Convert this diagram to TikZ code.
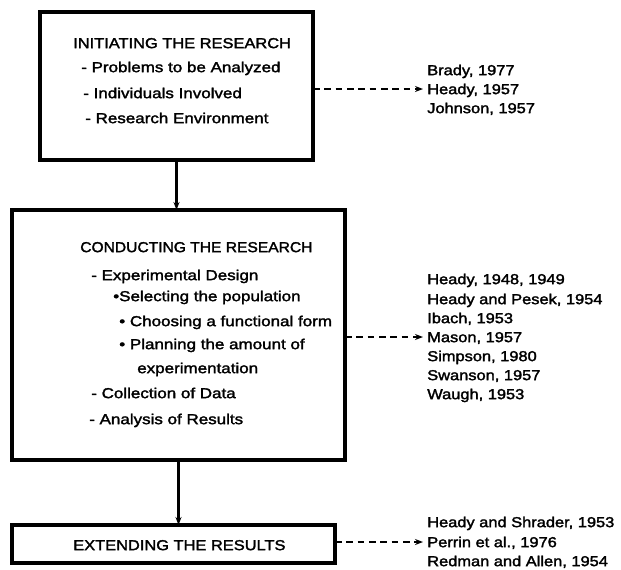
\documentclass[tikz,border=0pt]{standalone}
\usepackage{fontspec}
\setmainfont{Liberation Sans}[FakeStretch=1.14,FakeBold=2]
\newfontfamily\itemfont{Liberation Sans}[FakeStretch=1.18,FakeBold=2]
\usetikzlibrary{arrows.meta}
\begin{document}
\begin{tikzpicture}[x=0.75pt,y=-0.75pt,
  box/.style={draw,line width=2.5pt,inner sep=0pt,outer sep=0pt},
  txt/.style={anchor=west,inner sep=0pt,font=\fontsize{10.8}{13}\selectfont,text height=7.7pt,text depth=0pt},
  itm/.style={txt,font=\itemfont\fontsize{10.8}{13}\selectfont},
  vline/.style={line width=1.6pt,-{Stealth[length=6pt,width=4.5pt]}},
  dline/.style={line width=1.2pt,dash pattern=on 5pt off 3.5pt,-{Stealth[length=6pt,width=4.5pt]},shorten >=3pt}
]
\useasboundingbox (0,0) rectangle (621,569);
% boxes
\node[box,minimum width=204.75pt,minimum height=111pt] (b1) at (176.5,86) {};
\node[box,minimum width=249.75pt,minimum height=187.5pt] (b2) at (178.5,335) {};
\node[box,minimum width=242.25pt,minimum height=28.5pt] (b3) at (173.5,544) {};
% box 1 text
\node[txt] (t1) at (73,43) {INITIATING THE RESEARCH};
\node[itm] (t1a) at (81,67) {- Problems to be Analyzed};
\node[itm] (t1b) at (83,93) {- Individuals Involved};
\node[itm] (t1c) at (85,118) {- Research Environment};
% box 2 text
\node[txt] (t2) at (80,247) {\scalebox{0.95}[1]{CONDUCTING THE RESEARCH}};
\node[itm] (t2a) at (91,275) {- Experimental Design};
\node[itm] (t2b) at (113,296) {•Selecting the population};
\node[itm] (t2c) at (119,321) {• Choosing a functional form};
\node[itm] (t2d) at (119,344) {• Planning the amount of};
\node[itm] (t2e) at (137,368) {experimentation};
\node[itm] (t2f) at (91,393) {- Collection of Data};
\node[itm] (t2g) at (89,419) {- Analysis of Results};
% box 3 text
\node[txt] (t3) at (73,545) {EXTENDING THE RESULTS};
% references
\node[txt] (r1a) at (427,70) {Brady, 1977};
\node[txt] (r1b) at (427,89) {Heady, 1957};
\node[txt] (r1c) at (427,108) {Johnson, 1957};
\node[txt] (r2a) at (427,279) {Heady, 1948, 1949};
\node[txt] (r2b) at (427,299) {Heady and Pesek, 1954};
\node[txt] (r2c) at (427,318) {Ibach, 1953};
\node[txt] (r2d) at (427,337) {Mason, 1957};
\node[txt] (r2e) at (427,356) {Simpson, 1980};
\node[txt] (r2f) at (427,375) {Swanson, 1957};
\node[txt] (r2g) at (427,394) {Waugh, 1953};
\node[txt] (r3a) at (427,522) {Heady and Shrader, 1953};
\node[txt] (r3b) at (427,542) {Perrin et al., 1976};
\node[txt] (r3c) at (427,561) {Redman and Allen, 1954};
% connectors
\draw[vline] (b1.south) -- (b1.south |- b2.north);
\draw[vline] (b2.south) -- (b2.south |- b3.north);
\draw[dline] (b1.east |- r1b.west) -- (r1b.west);
\draw[dline] (b2.east |- r2d.west) -- (r2d.west);
\draw[dline] (b3.east |- r3b.west) -- (r3b.west);
\end{tikzpicture}
\end{document}
